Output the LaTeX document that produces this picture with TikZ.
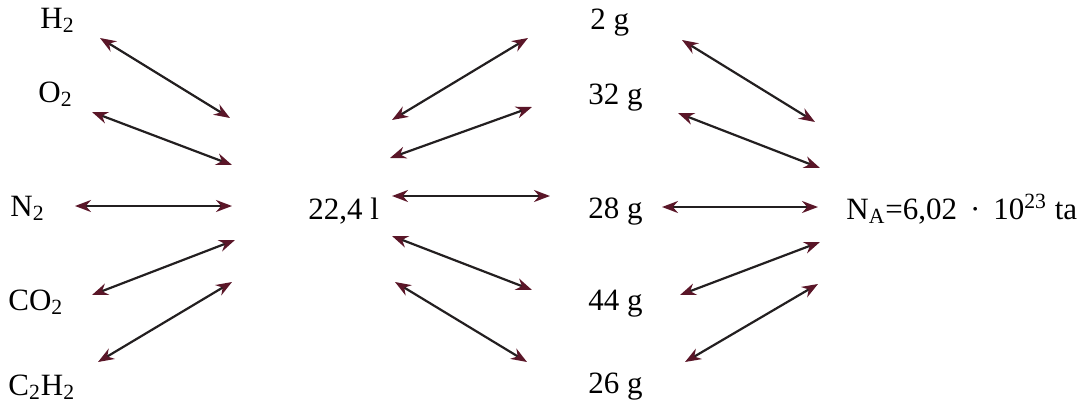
\documentclass[tikz,border=0pt]{standalone}
\usepackage{fontspec}
\setmainfont{Liberation Serif}
\usetikzlibrary{arrows.meta}
\definecolor{tipMaroon}{HTML}{5A1628}
\definecolor{lineDark}{HTML}{231F20}

\begin{document}
\begin{tikzpicture}[
    x=0.5pt, y=-0.5pt,
    every node/.style={font=\fontsize{15.5}{18}\selectfont, inner sep=0pt},
    gas/.style={anchor=base west},
    amount/.style={anchor=base west},
    link/.style={{Stealth[length=8pt,width=6pt,color=tipMaroon]}-{Stealth[length=8pt,width=6pt,color=tipMaroon]}, line width=1.1pt, color=lineDark}
  ]
    \useasboundingbox (0,0) rectangle (1080,407);

    % gases
    \node[gas] (h2) at (40,28) {H\textsubscript{2}};
    \node[gas] (o2) at (38,102) {O\textsubscript{2}};
    \node[gas] (n2) at (10,216) {N\textsubscript{2}};
    \node[gas] (co2) at (8,310) {CO\textsubscript{2}};
    \node[gas] (c2h2) at (8,395) {C\textsubscript{2}H\textsubscript{2}};

    % volume, masses, particles
    \node[amount] (vol) at (308,219) {22,4 l};
    \node[amount] (m2) at (590,29) {2 g};
    \node[amount] (m32) at (588,104) {32 g};
    \node[amount] (m28) at (588,218) {28 g};
    \node[amount] (m44) at (588,310) {44 g};
    \node[amount] (m26) at (588,393) {26 g};
    \node[amount] (na) at (846,219) {N\textsubscript{A}=6,02 \,·\, 10\textsuperscript{23} ta};

    % arrow ends
    \foreach \id/\ax/\ay/\bx/\by in {
        a/100/38/230/118, b/92/112/232/165, c/75/206/232/206, d/92/295/235/240, e/98/362/232/282,
        f/392/120/528/38, g/390/158/532/107, h/392/196/550/196, i/392/236/532/290, j/395/282/527/362,
        k/682/40/815/122, l/678/113/820/168, m/662/207/818/207, n/680/295/820/242, o/685/362/818/284} {
      \coordinate (\id-from) at (\ax,\ay);
      \coordinate (\id-to) at (\bx,\by);
      \draw[link] (\id-from) -- (\id-to);
    }
\end{tikzpicture}
\end{document}
